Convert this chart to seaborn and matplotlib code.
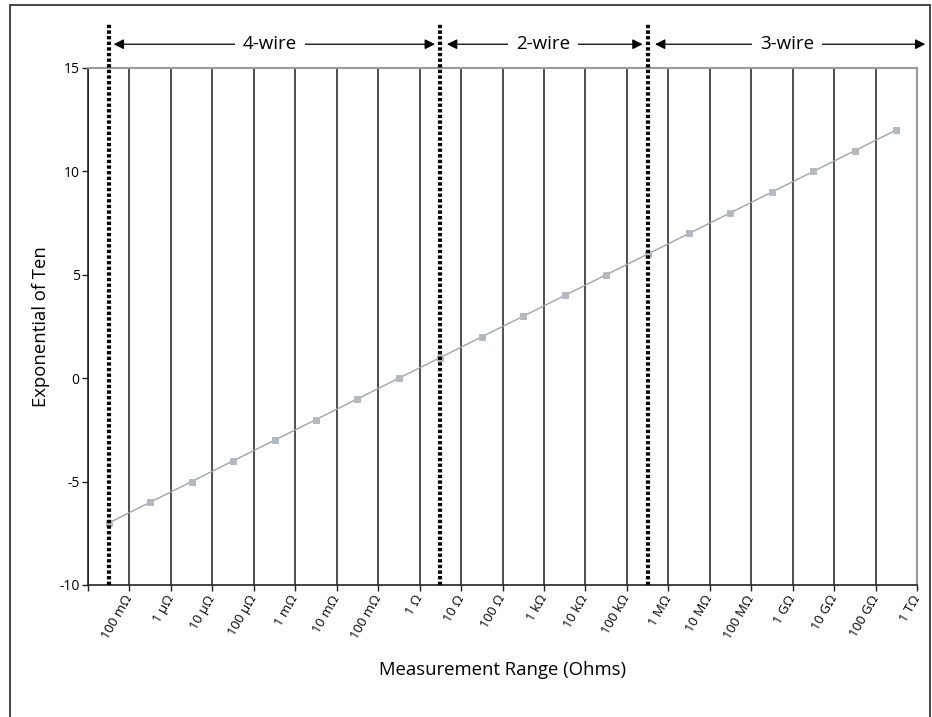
import numpy as np
import pandas as pd
import matplotlib
matplotlib.use("Agg")
import matplotlib.pyplot as plt
from matplotlib.patches import Rectangle
import seaborn as sns

# Measurement ranges (category labels) and their power-of-ten exponents
ranges = ["100 mΩ", "1 μΩ", "10 μΩ", "100 μΩ", "1 mΩ", "10 mΩ", "100 mΩ", "1 Ω",
          "10 Ω", "100 Ω", "1 kΩ", "10 kΩ", "100 kΩ", "1 MΩ", "10 MΩ", "100 MΩ",
          "1 GΩ", "10 GΩ", "100 GΩ", "1 TΩ"]
exponents = [-7, -6, -5, -4, -3, -2, -1, 0, 1, 2, 3, 4, 5, 6, 7, 8, 9, 10, 11, 12]

# Wiring regions: name, start category, end category
regions = ["4-wire", "2-wire", "3-wire"]
region_bounds = [0, 8, 13, 19.5]

y_ticks = [-10, -5, 0, 5, 10, 15]

sns.set_theme(style="ticks")
plt.rcParams["font.family"] = ["Open Sans", "DejaVu Sans"]
plt.rcParams["text.color"] = "black"
plt.rcParams["axes.labelcolor"] = "black"
plt.rcParams["xtick.labelcolor"] = "black"
plt.rcParams["ytick.labelcolor"] = "black"

df = pd.DataFrame({"pos": np.arange(len(ranges)), "exponent": exponents,
                   "range": ranges})

fig = plt.figure(figsize=(9.32, 7.17), dpi=100)
ax = fig.add_axes([88 / 932, 1 - 585 / 717, (917 - 88) / 932, (585 - 68) / 717])

sns.lineplot(data=df, x="pos", y="exponent", ax=ax, color="#a0a4aa", lw=1.0,
             marker="s", markersize=4.8, markerfacecolor="#b5bac2",
             markeredgecolor="#b5bac2", zorder=4)

ax.set_xlim(-0.5, len(ranges) - 0.5)
ax.set_ylim(-10, 15)
ax.set_yticks(y_ticks)
ax.set_yticklabels([str(v) for v in y_ticks], fontsize=10)

# Category boundaries carry the ticks, labels and vertical grid lines
bounds = np.arange(-0.5, len(ranges), 1.0)
ax.set_xticks(bounds)
ax.set_xticklabels([""] + ranges, fontsize=9.5, rotation=60,
                   ha="right", va="center", rotation_mode="anchor")
ax.tick_params(axis="x", length=4, width=1, color="#222222", pad=4,
               labelcolor="black")
ax.tick_params(axis="y", length=4, width=1, color="#222222", pad=2,
               labelcolor="black")
ax.set_axisbelow(True)
ax.grid(axis="x", color="#1e1e1e", lw=1.1)
ax.grid(axis="y", visible=False)

for side in ["left", "bottom"]:
    ax.spines[side].set_color("#222222")
    ax.spines[side].set_linewidth(1.2)
for side in ["top", "right"]:
    ax.spines[side].set_color("#9a9a9a")
    ax.spines[side].set_linewidth(1.5)

ax.set_xlabel("Measurement Range (Ohms)", fontsize=13.3, labelpad=14,
              color="black")
ax.set_ylabel("Exponential of Ten", fontsize=13.3, labelpad=7, color="black")

# Dotted separators between wiring regions
for x in region_bounds[:3]:
    ax.plot([x, x], [-10, 17.15], color="black", lw=3.0,
            linestyle=(0, (0.8, 0.55)), dash_capstyle="butt",
            clip_on=False, zorder=5)

# Double-headed arrows with region names
arrow_y = 16.15
arrow_spans = [(0.12, 7.87), (8.16, 12.88), (13.18, 19.7)]
text_x = [3.89, 10.48, 16.36]
for name, (x0, x1), tx in zip(regions, arrow_spans, text_x):
    ax.annotate("", xy=(x1, arrow_y), xytext=(x0, arrow_y),
                arrowprops=dict(arrowstyle="<|-|>", color="black", lw=0.9,
                                mutation_scale=15, shrinkA=0, shrinkB=0),
                annotation_clip=False)
    ax.text(tx, arrow_y, name, fontsize=13.5, ha="center", va="center",
            color="black",
            bbox=dict(facecolor="white", edgecolor="none", pad=6),
            clip_on=False, zorder=6)

# Outer frame
fig.add_artist(Rectangle((10 / 932, -0.02), 920 / 932, 1.02 - 5 / 717,
                         transform=fig.transFigure, fill=False,
                         edgecolor="#444444", lw=1.4))

fig.savefig("out.png", dpi=100)
